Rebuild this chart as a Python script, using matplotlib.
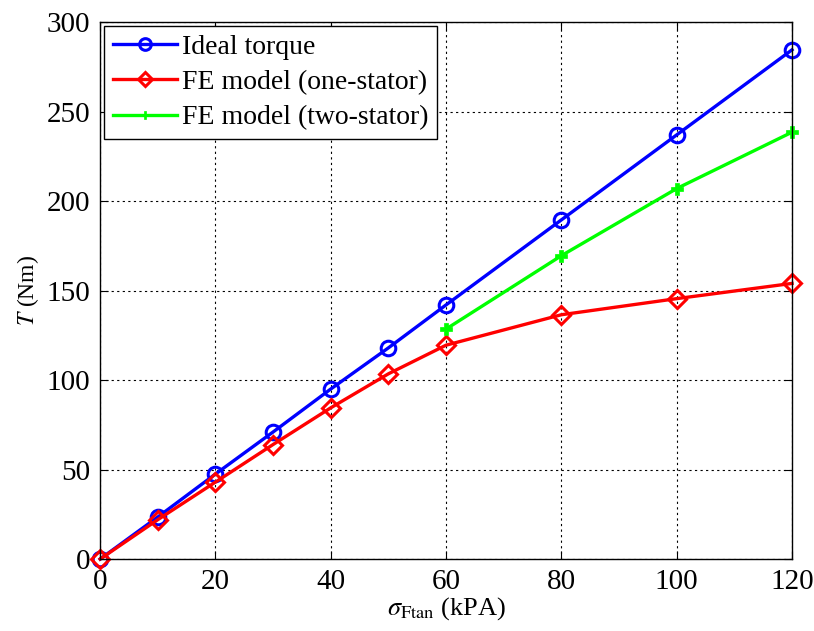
import matplotlib.pyplot as plt

plt.rcParams['font.family'] = ['Liberation Serif', 'DejaVu Serif']
plt.rcParams['mathtext.fontset'] = 'stix'

# datos
sigma = [0, 10, 20, 30, 40, 50, 60, 80, 100, 120]
ideal = [0, 23.5, 47.5, 71, 95, 118, 142, 189.5, 237, 284.5]
uno_estator = [0, 22, 43, 64, 84.5, 103.5, 119.5, 136.5, 145.5, 154]
sigma_dos = [60, 80, 100, 120]
dos_estator = [128.5, 169.5, 207, 238.5]

fig = plt.figure(figsize=(8.14, 6.31), dpi=100)
ax = fig.add_axes([0.123, 0.114, 0.850, 0.851])

ax.plot(sigma, ideal, color='#0000ff', linewidth=2.4, marker='o', markersize=10.5,
        markerfacecolor='none', markeredgewidth=2.2, label='Ideal torque', clip_on=False)
ax.plot(sigma, uno_estator, color='#ff0000', linewidth=2.4, marker='D', markersize=9.5,
        markerfacecolor='none', markeredgewidth=2.2, label='FE model (one-stator)', clip_on=False)
ax.plot(sigma_dos, dos_estator, color='#00ff00', linewidth=2.4, marker='P', markersize=8,
        markeredgewidth=0.5, label='FE model (two-stator)', clip_on=False)

ax.set_xlim(0, 120)
ax.set_ylim(0, 300)
ax.set_xticks([0, 20, 40, 60, 80, 100, 120])
ax.set_yticks([0, 50, 100, 150, 200, 250, 300])
ax.grid(True, color='black', linestyle=(0, (2, 3)), linewidth=0.8)
ax.tick_params(direction='in', top=True, right=True, labelsize=21, length=6, pad=7)
for s in ax.spines.values():
    s.set_linewidth(1.0)

ax.set_xlabel(r'$\sigma_{\mathrm{Ftan}}$ (kPA)', fontsize=19, labelpad=0)
ax.set_ylabel(r'$T$ (Nm)', fontsize=17, labelpad=4)

leg = ax.legend(loc='upper left', fontsize=20, frameon=True, fancybox=False,
                edgecolor='black', framealpha=1, borderaxespad=0.15, markerscale=0.8,
                handlelength=2.3, handletextpad=0.2, labelspacing=0.35, borderpad=0.3)
leg.get_frame().set_linewidth(1.0)

plt.savefig('out.png', dpi=100)
